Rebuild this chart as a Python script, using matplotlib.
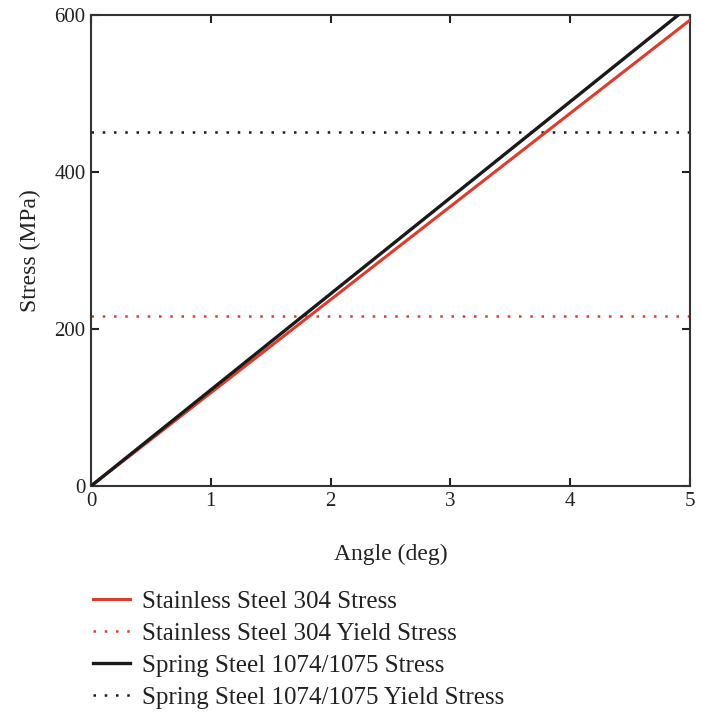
import matplotlib
matplotlib.use("Agg")
import matplotlib.pyplot as plt
from matplotlib.lines import Line2D

angle_deg = [0, 5]
stainless_stress = [0, 593.5]
spring_stress = [0, 612.0]
stainless_yield = 216
spring_yield = 451
x_ticks = [0, 1, 2, 3, 4, 5]
y_ticks = [0, 200, 400, 600]
labels = ["Stainless Steel 304 Stress", "Stainless Steel 304 Yield Stress",
          "Spring Steel 1074/1075 Stress", "Spring Steel 1074/1075 Yield Stress"]

plt.rcParams['font.family'] = ['Liberation Serif', 'DejaVu Serif']
W, H = 701, 712
fig = plt.figure(figsize=(W/100, H/100), dpi=100)
ax = fig.add_axes([91/W, 1-486/H, (690-91)/W, (486-15)/H])

red = '#e03a2a'
ax.plot(angle_deg, stainless_stress, color=red, lw=2.2, zorder=3)
ax.axhline(stainless_yield, color=red, lw=1.8, ls=(0, (1, 3.5)))
ax.plot(angle_deg, spring_stress, color='#1a1a1a', lw=2.4, zorder=4)
ax.axhline(spring_yield, color='#1a1a1a', lw=1.8, ls=(0, (1, 3.5)))

ax.set_xlim(0, 5)
ax.set_ylim(0, 600)
ax.set_xticks(x_ticks)
ax.set_yticks(y_ticks)
ax.tick_params(direction='in', length=6, width=1.5, top=True, right=True,
               labelsize=15, colors='#222222', pad=4)
for s in ax.spines.values():
    s.set_linewidth(1.5)
    s.set_color('#333333')
ax.set_xlabel('Angle (deg)', fontsize=17, color='#222222', labelpad=24)
ax.set_ylabel('Stress (MPa)', fontsize=17, color='#222222')
ax.yaxis.set_label_coords((41 - 91) / 599, 0.5)

handles = [Line2D([], [], color=red, lw=2.2),
           Line2D([], [], color=red, lw=1.8, ls=(0, (1, 3.5))),
           Line2D([], [], color='#1a1a1a', lw=2.4),
           Line2D([], [], color='#1a1a1a', lw=1.8, ls=(0, (1, 3.5)))]
fig.legend(handles, labels, loc='upper left', bbox_to_anchor=(70/W, 1-568/H),
           frameon=False, fontsize=18, handlelength=1.5, handletextpad=0.5,
           labelspacing=0.38, labelcolor='#222222')

fig.savefig('out.png', dpi=100)
